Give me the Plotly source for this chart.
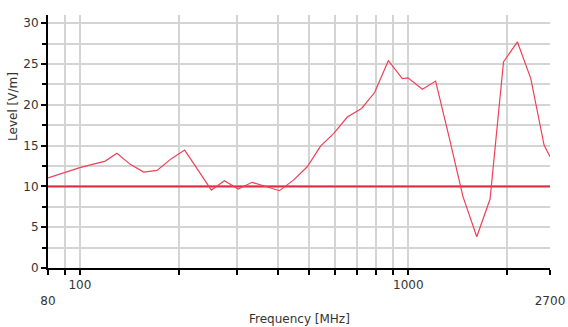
import math
import plotly.graph_objects as go

# Data
freq_mhz = [80, 90.6, 100, 119.5, 129.7, 142.4, 156.4, 171.8, 190, 208.5,
            251.5, 275.5, 303.4, 334.6, 405.3, 448, 492.4, 540.5, 593.3, 652,
            720.8, 789.6, 869.3, 959, 997.5, 1104, 1211, 1330, 1467, 1616,
            1774, 1949, 2149, 2360, 2590, 2700]
level_vm = [11.05, 11.8, 12.3, 13.1, 14.05, 12.7, 11.75, 11.95, 13.4, 14.45,
            9.55, 10.7, 9.67, 10.5, 9.47, 10.8, 12.4, 14.94, 16.5, 18.5,
            19.55, 21.5, 25.4, 23.2, 23.3, 21.9, 22.9, 16.1, 8.75, 3.83,
            8.45, 25.26, 27.7, 23.2, 15.06, 13.63]
limit_freq = [80, 2700]
limit_level = [10, 10]

x_tick_vals = [80, 100, 1000, 2700]
x_tick_text = ["<br>80", "100", "1000", "<br>2700"]
x_minor_vals = [90, 200, 300, 400, 500, 600, 700, 800, 900, 2000]
y_tick_vals = [0, 5, 10, 15, 20, 25, 30]

RED_LINE = "#ee4058"
RED_LIMIT = "#e02a40"
GRID = "#d4d4d4"
TEXT = "#333333"
FONT = "DejaVu Sans"

fig = go.Figure()
fig.add_trace(go.Scatter(x=limit_freq, y=limit_level, mode="lines",
                         line=dict(color=RED_LIMIT, width=2), hoverinfo="skip"))
fig.add_trace(go.Scatter(x=freq_mhz, y=level_vm, mode="lines",
                         line=dict(color=RED_LINE, width=1.2)))

fig.update_layout(
    width=568, height=327,
    margin=dict(l=48, r=18, t=15, b=59, autoexpand=False),
    paper_bgcolor="white", plot_bgcolor="white",
    showlegend=False,
    font=dict(family=FONT, size=12, color=TEXT),
)
fig.update_xaxes(
    type="log", automargin=False,
    range=[math.log10(80), math.log10(2700)],
    tickmode="array", tickvals=x_tick_vals, ticktext=x_tick_text,
    ticks="outside", ticklen=5, tickwidth=2, tickcolor="black",
    showgrid=True, gridcolor=GRID, gridwidth=1.5,
    minor=dict(tickmode="array", tickvals=x_minor_vals, ticks="outside",
               ticklen=5, tickwidth=2, tickcolor="black",
               showgrid=True, gridcolor=GRID, gridwidth=1.5),
    showline=True, linecolor="black", linewidth=2,
    zeroline=False,
    tickfont=dict(family=FONT, size=12, color=TEXT),
)
fig.update_yaxes(
    range=[0, 31], automargin=False,
    tickmode="array", tickvals=y_tick_vals,
    ticks="outside", ticklen=5, tickwidth=2, tickcolor="black",
    showgrid=True, gridcolor=GRID, gridwidth=1.5,
    minor=dict(dtick=2.5, tick0=0, ticks="outside", ticklen=4, tickwidth=2,
               tickcolor="black", showgrid=True, gridcolor=GRID, gridwidth=1.5),
    showline=True, linecolor="black", linewidth=2,
    zeroline=False,
    tickfont=dict(family=FONT, size=12, color=TEXT),
)

fig.add_annotation(text="Level [V/m]", xref="paper", yref="paper",
                   x=-0.07, y=0.64, xanchor="center", yanchor="middle",
                   textangle=-90, showarrow=False,
                   font=dict(family=FONT, size=12, color=TEXT))
fig.add_annotation(text="Frequency [MHz]", xref="paper", yref="paper",
                   x=0.5, y=-0.2016, xanchor="center", yanchor="middle",
                   showarrow=False,
                   font=dict(family=FONT, size=12, color=TEXT))

fig.write_html("out.html",
               config={"displayModeBar": False},
               post_script="document.body.style.margin='0px';document.body.style.overflow='hidden';")
